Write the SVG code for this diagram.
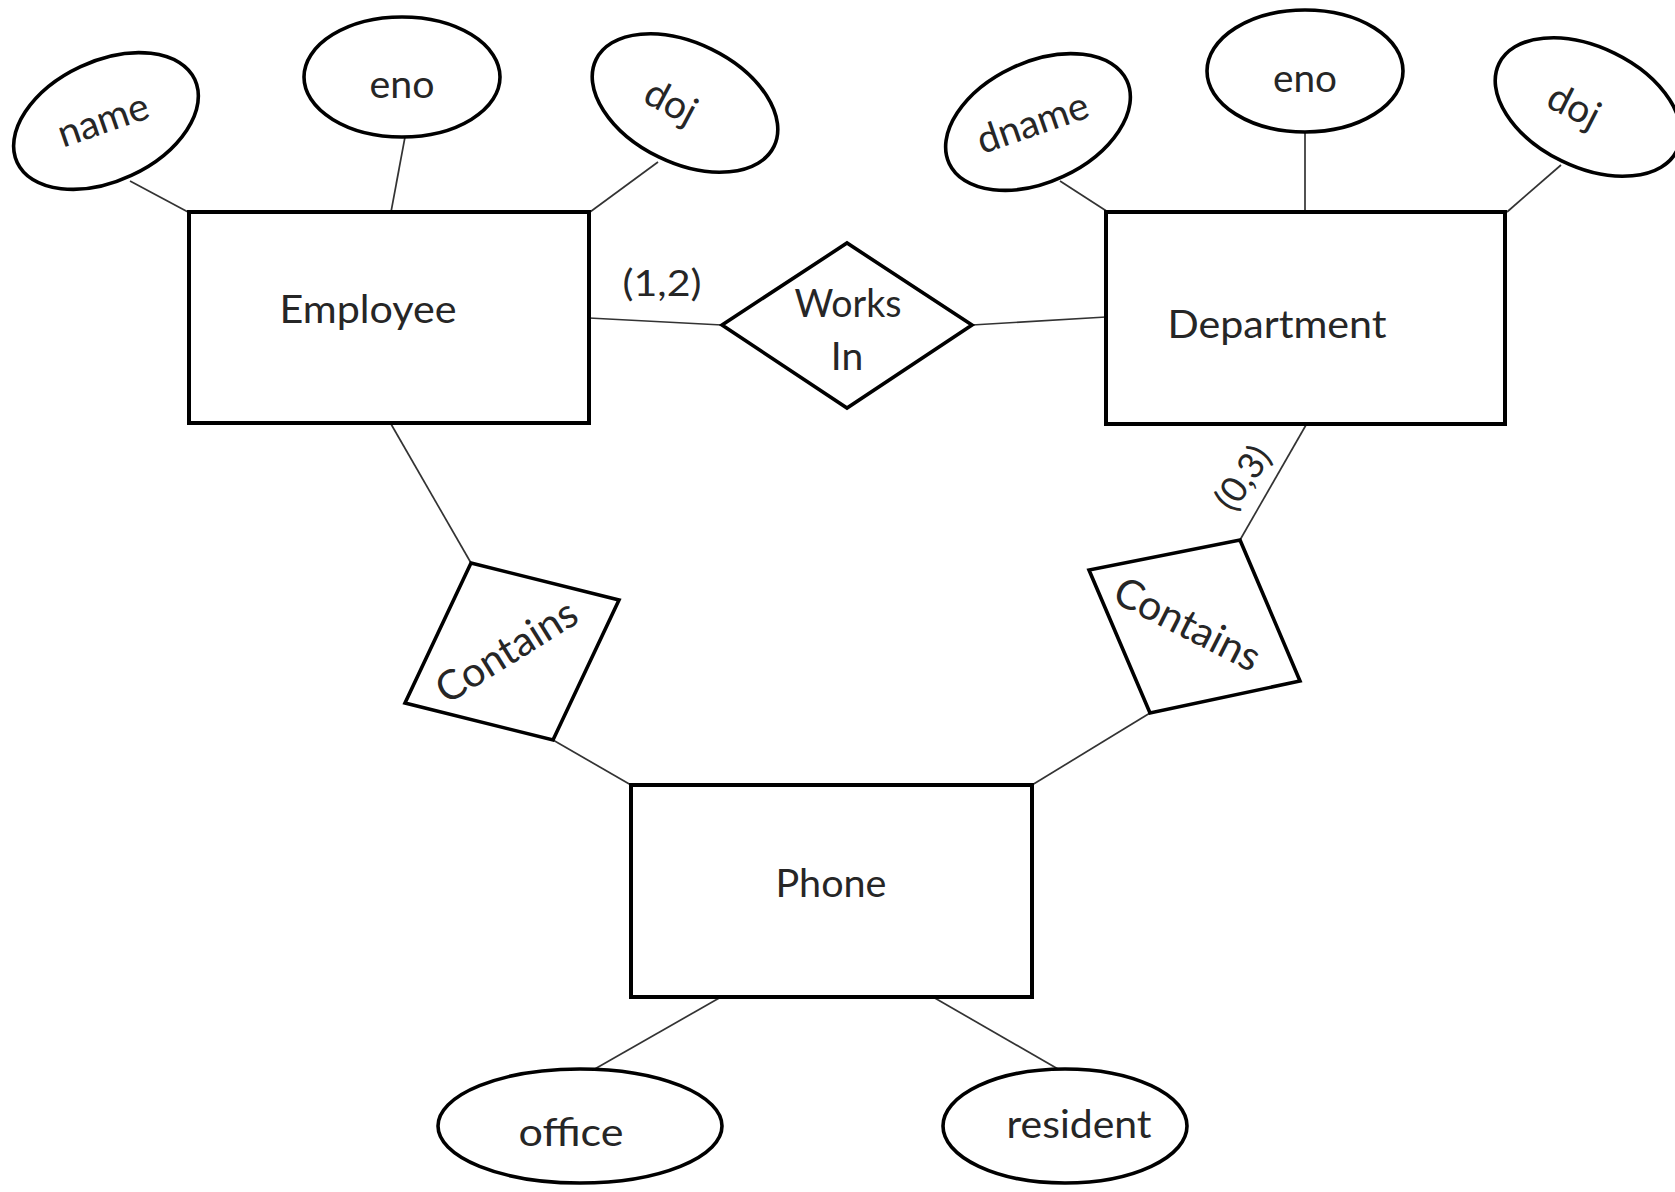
<svg xmlns="http://www.w3.org/2000/svg" width="1675" height="1192" viewBox="0 0 1675 1192">
  <style>
    .entity { fill: #ffffff; stroke: #000000; stroke-width: 4; }
    .relation { fill: #ffffff; stroke: #000000; stroke-width: 3.6; stroke-linejoin: miter; }
    .attr { fill: #ffffff; stroke: #000000; stroke-width: 3.6; }
    .link { stroke: #333333; stroke-width: 1.7; fill: none; }
    .lbl { font-family: "Lato", "Liberation Sans", Arial, sans-serif; font-size: 39px; fill: #262626; text-anchor: middle; }
    .card { font-size: 36px; }
    .rel { font-size: 41px; }
  </style>

  <rect x="0" y="0" width="1675" height="1192" fill="#ffffff"/>

  <!-- connectors -->
  <g id="connectors">
    <line class="link" x1="130" y1="181" x2="188" y2="212"/>
    <line class="link" x1="405" y1="137" x2="391" y2="212"/>
    <line class="link" x1="658" y1="162" x2="590" y2="212"/>
    <line class="link" x1="589" y1="318" x2="722" y2="325"/>
    <line class="link" x1="972" y1="325" x2="1106" y2="317"/>
    <line class="link" x1="1060" y1="181" x2="1108" y2="212"/>
    <line class="link" x1="1305" y1="132" x2="1305" y2="212"/>
    <line class="link" x1="1561" y1="165" x2="1507" y2="212"/>
    <line class="link" x1="391" y1="424" x2="471" y2="563"/>
    <line class="link" x1="553" y1="740" x2="631" y2="785"/>
    <line class="link" x1="1306" y1="425" x2="1240" y2="540"/>
    <line class="link" x1="1150" y1="713" x2="1032" y2="785"/>
    <line class="link" x1="721" y1="997" x2="593" y2="1070"/>
    <line class="link" x1="933" y1="997" x2="1058" y2="1069"/>
  </g>

  <!-- Employee entity and its attributes -->
  <g id="employee">
    <rect class="entity" x="189" y="212" width="400" height="211"/>
    <text class="lbl" x="368" y="323" textLength="177" lengthAdjust="spacingAndGlyphs">Employee</text>
  </g>
  <g id="employee-name">
    <ellipse class="attr" cx="0" cy="0" rx="98" ry="60" transform="translate(106,121) rotate(-25)"/>
    <text class="lbl" x="0" y="10" transform="translate(104,123) rotate(-19)">name</text>
  </g>
  <g id="employee-eno">
    <ellipse class="attr" cx="402" cy="77" rx="98" ry="60"/>
    <text class="lbl" x="402" y="98" textLength="65" lengthAdjust="spacingAndGlyphs">eno</text>
  </g>
  <g id="employee-doj">
    <ellipse class="attr" cx="0" cy="0" rx="99" ry="60" transform="translate(685,103) rotate(26)"/>
    <text class="lbl" x="0" y="11" transform="translate(670,104) rotate(28)">doj</text>
  </g>

  <!-- Works In relationship -->
  <g id="works-in">
    <polygon class="relation" points="722,325 847,243 972,325 847,408"/>
    <text class="lbl" x="848" y="317" textLength="107" lengthAdjust="spacingAndGlyphs">Works</text>
    <text class="lbl" x="847" y="370">In</text>
  </g>
  <g id="card-employee-works">
    <text class="lbl card" x="662" y="296" textLength="79" lengthAdjust="spacingAndGlyphs">(1,2)</text>
  </g>

  <!-- Department entity and its attributes -->
  <g id="department">
    <rect class="entity" x="1106" y="212" width="399" height="212"/>
    <text class="lbl" x="1277" y="338" textLength="219" lengthAdjust="spacingAndGlyphs">Department</text>
  </g>
  <g id="department-dname">
    <ellipse class="attr" cx="0" cy="0" rx="98" ry="60" transform="translate(1038,122) rotate(-25)"/>
    <text class="lbl" x="0" y="12" transform="translate(1033,124) rotate(-19)">dname</text>
  </g>
  <g id="department-eno">
    <ellipse class="attr" cx="1305" cy="71" rx="98" ry="61"/>
    <text class="lbl" x="1305" y="92" textLength="64" lengthAdjust="spacingAndGlyphs">eno</text>
  </g>
  <g id="department-doj">
    <ellipse class="attr" cx="0" cy="0" rx="99" ry="60" transform="translate(1588,107) rotate(26)"/>
    <text class="lbl" x="0" y="11" transform="translate(1573,108) rotate(27)">doj</text>
  </g>

  <!-- Contains relationships -->
  <g id="contains-employee">
    <polygon class="relation" points="471,563 619,600 553,740 405,703"/>
    <text class="lbl rel" x="0" y="13" transform="translate(507,652) rotate(-32)">Contains</text>
  </g>
  <g id="contains-department">
    <polygon class="relation" points="1240,540 1300,681 1150,713 1089,570"/>
    <text class="lbl rel" x="0" y="13" transform="translate(1187,625) rotate(27)">Contains</text>
  </g>
  <g id="card-department-contains">
    <text class="lbl card" x="0" y="12" transform="translate(1243,478) rotate(-55)" font-size="38">(0,3)</text>
  </g>

  <!-- Phone entity and its attributes -->
  <g id="phone">
    <rect class="entity" x="631" y="785" width="401" height="212"/>
    <text class="lbl" x="831" y="897" textLength="111" lengthAdjust="spacingAndGlyphs">Phone</text>
  </g>
  <g id="phone-office">
    <ellipse class="attr" cx="580" cy="1126" rx="142" ry="57"/>
    <text class="lbl" x="571" y="1146" textLength="105" lengthAdjust="spacingAndGlyphs">office</text>
  </g>
  <g id="phone-resident">
    <ellipse class="attr" cx="1065" cy="1126" rx="122" ry="57"/>
    <text class="lbl" x="1079" y="1138" textLength="145" lengthAdjust="spacingAndGlyphs">resident</text>
  </g>
</svg>
